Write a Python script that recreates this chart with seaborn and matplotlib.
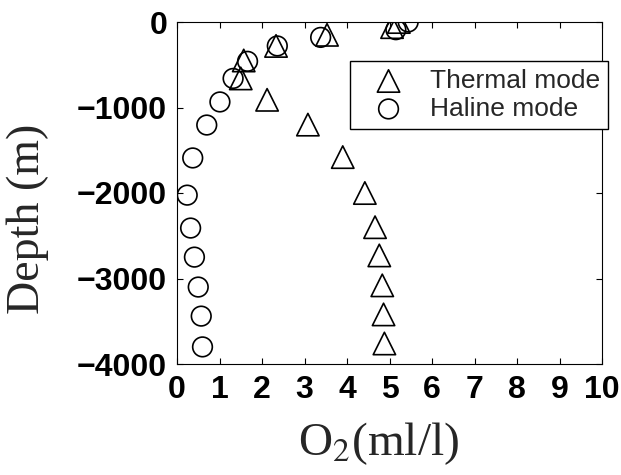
"""
O2 profiles of thermal vs haline modes: depth against dissolved oxygen.
"""
import matplotlib
matplotlib.use("Agg")
import matplotlib.pyplot as plt
import pandas as pd
import seaborn as sns

# ---------------------------------------------------------------------------
# DATA
# ---------------------------------------------------------------------------
thermal_o2 = [5.22, 5.06, 3.53, 2.33, 1.57, 1.50, 2.12, 3.08, 3.90, 4.42,
              4.66, 4.76, 4.83, 4.86, 4.88]
thermal_depth = [0, -60, -150, -280, -450, -660, -910, -1200, -1580, -2000,
                 -2400, -2730, -3080, -3420, -3760]

haline_o2 = [5.44, 5.15, 3.38, 2.36, 1.66, 1.32, 1.01, 0.70, 0.37, 0.24,
             0.32, 0.41, 0.50, 0.57, 0.60]
haline_depth = [0, -90, -180, -280, -460, -660, -935, -1205, -1590, -2025,
                -2410, -2750, -3100, -3440, -3800]

x_ticks = list(range(0, 11))
y_ticks = [-4000, -3000, -2000, -1000, 0]

# ---------------------------------------------------------------------------
# STYLE
# ---------------------------------------------------------------------------
sns.set_style("ticks")
plt.rcParams.update({
    "font.family": ["Liberation Sans", "DejaVu Sans"],
    "mathtext.fontset": "stix",
    "axes.linewidth": 0.8,
    "xtick.direction": "in", "ytick.direction": "in",
    "xtick.top": True, "ytick.right": True,
    "xtick.major.size": 4, "ytick.major.size": 4,
    "xtick.major.width": 0.8, "ytick.major.width": 0.8,
})

thermal = pd.DataFrame({"o2": thermal_o2, "depth": thermal_depth})
haline = pd.DataFrame({"o2": haline_o2, "depth": haline_depth})

fig = plt.figure(figsize=(6.21, 4.75), dpi=100)
ax = fig.add_axes([177 / 621, 1 - 364 / 475, 425 / 621, 342 / 475])

sns.scatterplot(data=thermal, x="o2", y="depth", ax=ax, marker="^", s=260,
                facecolor="none", edgecolor="black", linewidth=1.2,
                label="Thermal mode")
sns.scatterplot(data=haline, x="o2", y="depth", ax=ax, marker="o", s=200,
                facecolor="none", edgecolor="black", linewidth=1.2,
                label="Haline mode")

ax.set_xlim(0, 10)
ax.set_ylim(-4000, 0)
ax.set_xticks(x_ticks)
ax.set_yticks(y_ticks)
ax.tick_params(axis="both", labelsize=23, colors="black")
ax.tick_params(axis="x", pad=8)
ax.tick_params(axis="y", pad=7)
for lbl in ax.get_xticklabels() + ax.get_yticklabels():
    lbl.set_fontweight("bold")
for s in ax.spines.values():
    s.set_color("black")

ax.set_xlabel(r"O$_2$(ml/l)", fontsize=34, family="Liberation Serif")
ax.set_ylabel("Depth (m)", fontsize=33, family="Liberation Serif")
ax.xaxis.set_label_coords(0.475, -0.165)
ax.yaxis.set_label_coords(-0.30, 0.424)

ax.legend(loc="upper right", bbox_to_anchor=(608 / 621, 1 - 61 / 475),
          bbox_transform=fig.transFigure, borderaxespad=0, fontsize=19,
          frameon=True, fancybox=False, edgecolor="black", framealpha=1,
          handletextpad=0.42, labelspacing=0.15, borderpad=0.3,
          handlelength=2.3)

fig.savefig("out.png", dpi=100)
